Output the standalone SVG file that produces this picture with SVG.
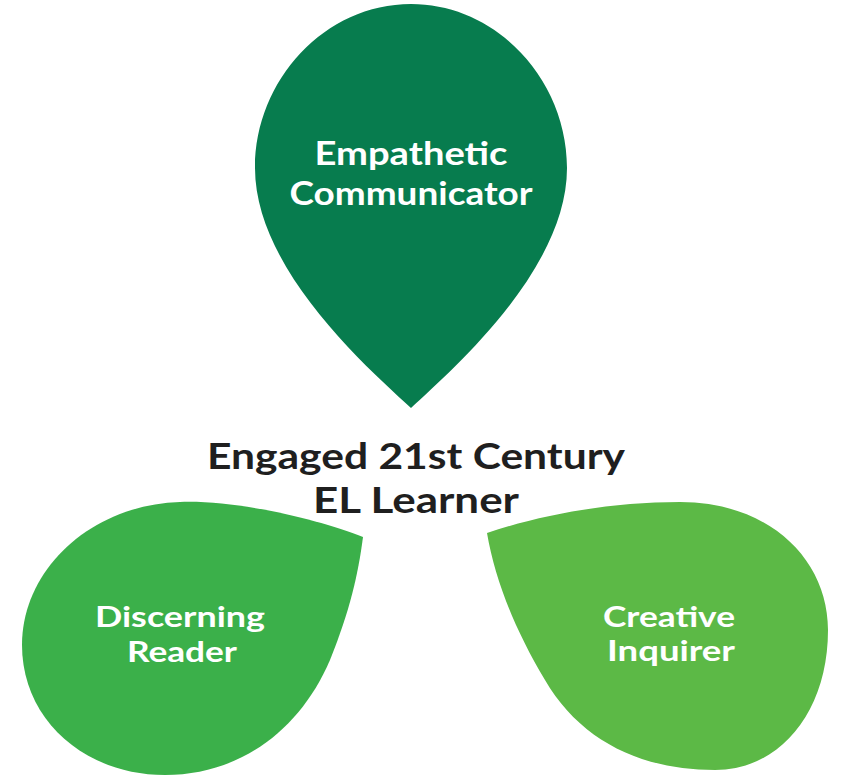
<svg xmlns="http://www.w3.org/2000/svg" width="848" height="784" viewBox="0 0 848 784">
<style>
.lbl{font-family:Lato,"Liberation Sans",sans-serif;font-weight:700;fill:#ffffff;text-anchor:middle}
.big{font-size:33px}
.sm{font-size:29px}
.ctr{font-family:Lato,"Liberation Sans",sans-serif;font-weight:700;fill:#1f1f1f;text-anchor:middle;font-size:36px}
</style>
<rect width="848" height="784" fill="#ffffff"/>
<g id="connectors"></g>
<g id="node-empathetic">
<path d="M411,408 C370,370 255,270 255,168 C255,80 325,4 411,4 C497,4 567,80 567,168 C567,270 452,370 411,408 Z" fill="#077c4e"/>
<text class="lbl big" x="411" y="165" textLength="193" lengthAdjust="spacingAndGlyphs">Empathetic</text>
<text class="lbl big" x="411" y="205" textLength="243" lengthAdjust="spacingAndGlyphs">Communicator</text>
</g>
<g id="node-center">
<text class="ctr" x="416" y="469" textLength="418" lengthAdjust="spacingAndGlyphs">Engaged 21st Century</text>
<text class="ctr" x="416" y="513" textLength="206" lengthAdjust="spacingAndGlyphs">EL Learner</text>
</g>
<g id="node-discerning">
<path d="M363,537 C320,520 240,500 180,502 C90,505 22,570 22,645 C22,720 85,775 165,775 C240,775 300,730 330,660 C350,610 358,575 363,537 Z" fill="#3bb04a"/>
<text class="lbl sm" x="180" y="627" textLength="170" lengthAdjust="spacingAndGlyphs">Discerning</text>
<text class="lbl sm" x="182" y="662" textLength="110" lengthAdjust="spacingAndGlyphs">Reader</text>
</g>
<g id="node-creative">
<path d="M487,533 C540,515 610,502 680,502 C770,502 828,560 828,630 C828,712 780,770 715,770 C640,770 580,740 545,680 C515,630 495,580 487,533 Z" fill="#5cb946"/>
<text class="lbl sm" x="669" y="627" textLength="132" lengthAdjust="spacingAndGlyphs">Creative</text>
<text class="lbl sm" x="671" y="661" textLength="128" lengthAdjust="spacingAndGlyphs">Inquirer</text>
</g>
</svg>
